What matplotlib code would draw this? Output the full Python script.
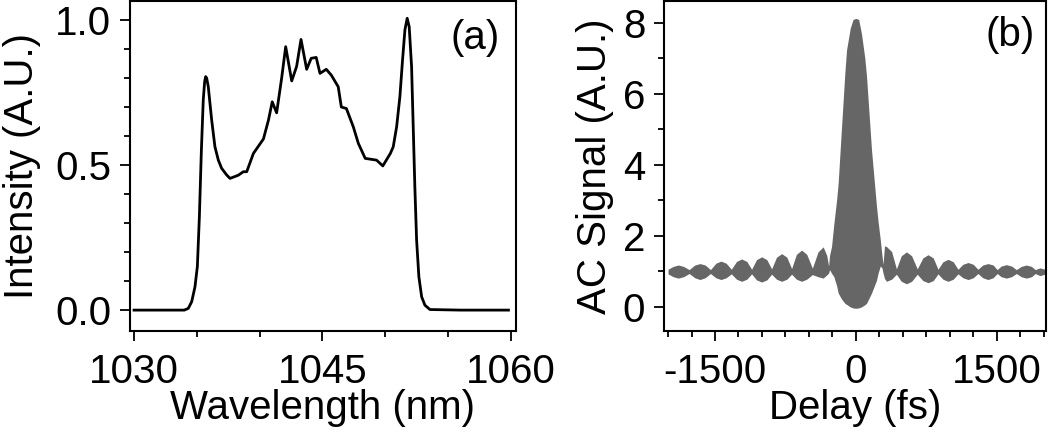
import numpy as np
import matplotlib
matplotlib.use("Agg")
import matplotlib.pyplot as plt
from matplotlib.ticker import MultipleLocator, FixedLocator

plt.rcParams['font.family'] = ['Liberation Sans', 'DejaVu Sans']
plt.rcParams['axes.unicode_minus'] = False

# ---------------- data: (a) spectrum ----------------
wavelength = [1030.0, 1032.0, 1034.0, 1034.32, 1034.59, 1034.85, 1035.04, 1035.2, 1035.36,
              1035.51, 1035.62, 1035.7, 1035.78, 1035.91, 1036.18, 1036.44, 1036.71,
              1036.97, 1037.37, 1037.64, 1038.3, 1038.7, 1038.97, 1039.5, 1040.3, 1040.7,
              1041.0, 1041.35, 1041.75, 1042.07, 1042.55, 1042.94, 1043.29, 1043.74,
              1044.1, 1044.5, 1044.8, 1045.3, 1045.7, 1046.25, 1046.5, 1046.9, 1047.45,
              1047.85, 1048.4, 1049.3, 1049.8, 1050.4, 1050.63, 1050.9, 1051.16, 1051.37,
              1051.56, 1051.74, 1051.9, 1052.09, 1052.22, 1052.35, 1052.49, 1052.67,
              1052.89, 1053.15, 1053.55, 1056.0, 1059.8]
intensity = [0.0, 0.0, 0.0, 0.006, 0.029, 0.08, 0.15, 0.32, 0.55,
             0.724, 0.787, 0.805, 0.80, 0.77, 0.655, 0.563, 0.517,
             0.489, 0.466, 0.454, 0.465, 0.477, 0.477, 0.54, 0.59, 0.655,
             0.718, 0.68, 0.80, 0.908, 0.79, 0.84, 0.933, 0.83,
             0.868, 0.871, 0.816, 0.83, 0.81, 0.77, 0.70, 0.695, 0.632,
             0.575, 0.523, 0.517, 0.497, 0.54, 0.563, 0.632, 0.736, 0.862,
             0.966, 1.006, 0.977, 0.839, 0.632, 0.425, 0.241, 0.115,
             0.046, 0.017, 0.002, 0.0, 0.0]

# ---------------- data: (b) autocorrelation envelope ----------------
delay = [-2000, -1945, -1890, -1835, -1775, -1715, -1660, -1605, -1548, -1491,
         -1436, -1381, -1326, -1271, -1216, -1161, -1110, -1058, -1003, -948,
         -897, -845, -790, -735, -684, -633, -578, -523, -463, -403,
         -348, -310, -290, -280, -259, -234, -205, -188, -152, -117,
         -99, -60, -30, 0, 30, 60, 96, 114, 167, 220,
         237, 260, 278, 290, 305, 326, 381, 432, 484, 539,
         594, 654, 714, 769, 824, 875, 927, 982, 1037, 1088,
         1140, 1195, 1250, 1300, 1352, 1407, 1462, 1505, 1548, 1603,
         1658, 1710, 1761, 1816, 1871, 1910, 1960, 2011]
ac_upper = [1.06, 1.14, 1.18, 1.14, 1.05, 1.18, 1.22, 1.18, 1.05, 1.23,
            1.29, 1.23, 1.06, 1.28, 1.35, 1.28, 1.06, 1.33, 1.41, 1.33,
            1.07, 1.40, 1.50, 1.40, 1.08, 1.48, 1.60, 1.48, 1.09, 1.55,
            1.69, 1.45, 1.15, 1.45, 1.70, 2.35, 3.01, 3.50, 5.08, 6.60,
            7.24, 7.85, 8.10, 8.13, 8.10, 7.70, 7.00, 6.49, 4.42, 2.83,
            2.40, 1.90, 1.45, 1.20, 1.72, 1.70, 1.56, 1.07, 1.44, 1.55,
            1.44, 1.07, 1.38, 1.47, 1.38, 1.06, 1.27, 1.34, 1.27, 1.06,
            1.20, 1.25, 1.20, 1.06, 1.18, 1.22, 1.18, 1.05, 1.15, 1.19,
            1.15, 1.05, 1.14, 1.18, 1.14, 1.05, 1.10, 1.06]
ac_lower = [0.93, 0.85, 0.81, 0.85, 0.94, 0.82, 0.77, 0.82, 0.94, 0.82,
            0.77, 0.82, 0.93, 0.78, 0.72, 0.78, 0.93, 0.76, 0.70, 0.76,
            0.92, 0.78, 0.72, 0.78, 0.92, 0.78, 0.72, 0.78, 0.91, 0.85,
            0.81, 0.90, 0.95, 1.05, 0.95, 0.85, 0.60, 0.39, 0.22, 0.10,
            0.07, 0.00, -0.03, -0.04, -0.03, 0.00, 0.06, 0.10, 0.39, 0.75,
            0.95, 1.15, 1.10, 0.95, 0.80, 0.72, 0.78, 0.92, 0.72, 0.65,
            0.72, 0.92, 0.74, 0.68, 0.74, 0.93, 0.78, 0.72, 0.78, 0.93,
            0.82, 0.77, 0.82, 0.94, 0.82, 0.77, 0.82, 0.94, 0.85, 0.81,
            0.85, 0.94, 0.85, 0.81, 0.85, 0.94, 0.88, 0.92]

# ---------------- figure ----------------
fig = plt.figure(figsize=(10.5, 4.32), dpi=100)
axa = fig.add_axes([130/1050, 1-331/432, (516-130)/1050, 330/432])
axb = fig.add_axes([664/1050, 1-331/432, (1046-664)/1050, 330/432])

FS = 29

axa.plot(wavelength, intensity, color='black', lw=2.0, solid_joinstyle='round')
axa.set_xlim(1029.68, 1060.4)
axa.set_ylim(-0.072, 1.0655)
axa.xaxis.set_major_locator(FixedLocator([1030, 1045, 1060]))
axa.xaxis.set_minor_locator(MultipleLocator(5))
axa.yaxis.set_major_locator(MultipleLocator(0.5))
axa.yaxis.set_minor_locator(MultipleLocator(0.1))
axa.yaxis.set_major_formatter(plt.FormatStrFormatter('%.1f'))
axa.set_xlabel('Wavelength (nm)', fontsize=FS, labelpad=-1)
axa.set_ylabel('Intensity (A.U.)', fontsize=FS, labelpad=10)
axa.text(0.959, 0.945, '(a)', transform=axa.transAxes, ha='right', va='top', fontsize=FS)

axb.fill_between(delay, ac_lower, ac_upper, color='#666666', lw=0)
axb.set_xlim(-2043, 2025)
axb.set_ylim(-0.68, 8.62)
axb.xaxis.set_major_locator(MultipleLocator(1500))
axb.xaxis.set_minor_locator(MultipleLocator(250))
axb.yaxis.set_major_locator(MultipleLocator(2))
axb.yaxis.set_minor_locator(MultipleLocator(1))
axb.set_xlabel('Delay (fs)', fontsize=FS, labelpad=-1)
axb.set_ylabel('AC Signal (A.U.)', fontsize=FS, labelpad=6)
axb.text(0.971, 0.955, '(b)', transform=axb.transAxes, ha='right', va='top', fontsize=FS)

for ax in (axa, axb):
    for s in ax.spines.values():
        s.set_linewidth(1.5)
    ax.tick_params(axis='x', which='major', direction='out', length=7.5, width=1.3,
                   labelsize=FS, pad=8)
    ax.tick_params(axis='y', which='major', direction='out', length=7.5, width=1.3,
                   labelsize=FS, pad=6)
    ax.tick_params(which='minor', direction='out', length=4.5, width=1.3)

fig.savefig('out.png', dpi=100)
